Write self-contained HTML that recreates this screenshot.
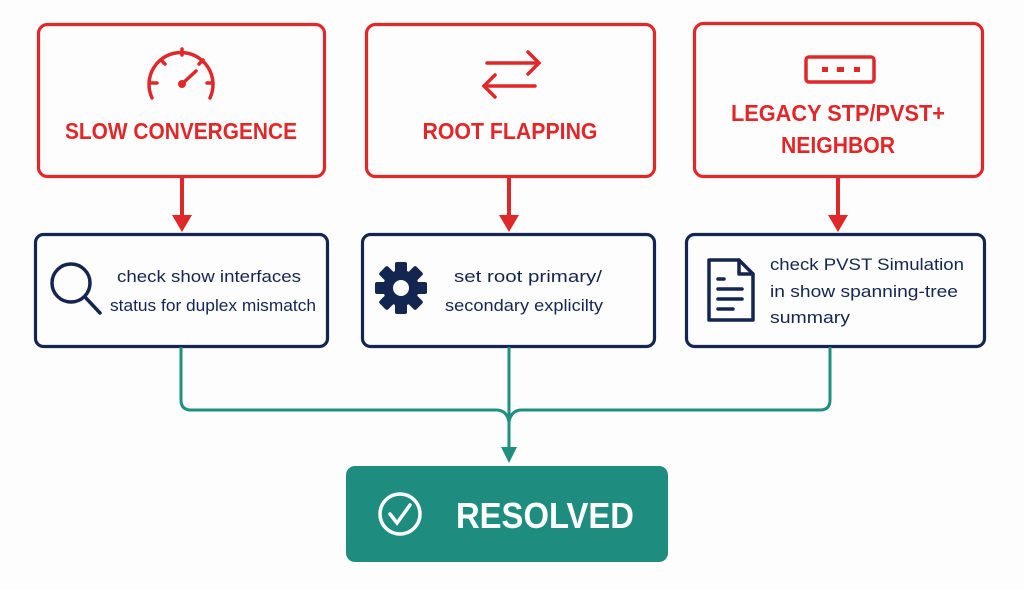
<!DOCTYPE html>
<html><head><meta charset="utf-8"><style>
body{margin:0;background:#fdfdfd;width:1024px;height:585px;overflow:hidden;font-family:"Liberation Sans",sans-serif}
</style></head><body>
<svg width="1024" height="585" viewBox="0 0 1024 585" xmlns="http://www.w3.org/2000/svg">
<g fill="none" stroke="#e0282a" stroke-width="3.2">
<rect x="38.5" y="24.5" width="286" height="152" rx="9"/>
<rect x="366.5" y="24.5" width="288" height="152" rx="9"/>
<rect x="694.5" y="23.5" width="288" height="153" rx="9"/>
</g>
<g stroke="#e0282a" stroke-width="4" fill="none">
<line x1="182" y1="177" x2="182" y2="218"/>
<line x1="509" y1="177" x2="509" y2="218"/>
<line x1="838" y1="177" x2="838" y2="218"/>
</g>
<g fill="#e0282a">
<polygon points="172,215 192,215 182,232"/>
<polygon points="499,215 519,215 509,232"/>
<polygon points="828,215 848,215 838,232"/>
</g>
<!-- gauge -->
<g stroke="#e0282a" stroke-width="3.5" fill="none" stroke-linecap="round">
<path d="M152,98 A32,32 0 1 1 210,98"/>
<line x1="182" y1="49" x2="182" y2="55"/><line x1="161" y1="60" x2="165" y2="64"/><line x1="203" y1="60" x2="199" y2="64"/>
<line x1="151" y1="83" x2="157" y2="83"/><line x1="207" y1="83" x2="213" y2="83"/>
<line x1="182" y1="84" x2="196" y2="71"/>
</g>
<circle cx="182" cy="84" r="4" fill="#e0282a"/>
<!-- arrows swap -->
<g stroke="#e0282a" stroke-width="3.5" fill="none" stroke-linecap="round">
<line x1="487" y1="63" x2="538" y2="63"/><polyline points="528,52 539,63 528,74"/>
<line x1="484" y1="86" x2="535" y2="86"/><polyline points="495,75 484,86 495,97"/>
</g>
<!-- device -->
<rect x="806" y="57" width="68" height="25" rx="3" fill="none" stroke="#e0282a" stroke-width="3.5"/>
<g fill="#e0282a"><rect x="822" y="67" width="6" height="5"/><rect x="837" y="67" width="7" height="5"/><rect x="854" y="67" width="6" height="5"/></g>
<g fill="#e0282a" font-weight="bold" font-size="23" text-anchor="middle">
<text x="181" y="139" textLength="232" lengthAdjust="spacingAndGlyphs">SLOW CONVERGENCE</text>
<text x="510" y="139" textLength="175" lengthAdjust="spacingAndGlyphs">ROOT FLAPPING</text>
<text x="838" y="121" textLength="214" lengthAdjust="spacingAndGlyphs">LEGACY STP/PVST+</text>
<text x="838" y="153" textLength="114" lengthAdjust="spacingAndGlyphs">NEIGHBOR</text>
</g>
<g fill="none" stroke="#14264f" stroke-width="3.2">
<rect x="35.5" y="234.5" width="292" height="112" rx="8"/>
<rect x="362.5" y="234.5" width="292" height="112" rx="8"/>
<rect x="686.5" y="234.5" width="298" height="112" rx="8"/>
</g>
<!-- magnifier -->
<g stroke="#14264f" stroke-width="3.5" fill="none" stroke-linecap="round">
<circle cx="71" cy="283" r="19"/><line x1="85" y1="297" x2="100" y2="313"/>
</g>
<!-- gear -->
<g transform="translate(401,288)" fill="#14264f">
<circle r="18"/>
<g><rect x="-6" y="-26" width="12" height="52" rx="2"/>
<rect x="-6" y="-26" width="12" height="52" rx="2" transform="rotate(45)"/>
<rect x="-6" y="-26" width="12" height="52" rx="2" transform="rotate(90)"/>
<rect x="-6" y="-26" width="12" height="52" rx="2" transform="rotate(135)"/></g>
<circle r="8" fill="#fdfdfd"/>
</g>
<!-- doc -->
<g stroke="#14264f" stroke-width="3.5" fill="none" stroke-linejoin="round" stroke-linecap="round">
<path d="M709,260 H739 L753,274 V320 H709 Z"/><path d="M739,260 V274 H753"/>
<line x1="718" y1="279" x2="724" y2="279"/><line x1="718" y1="289" x2="742" y2="289"/><line x1="718" y1="299" x2="742" y2="299"/><line x1="718" y1="309" x2="733" y2="309"/>
</g>
<g fill="#14264f" font-size="17">
<text x="117" y="282" textLength="184" lengthAdjust="spacingAndGlyphs">check show interfaces</text>
<text x="110" y="311" textLength="206" lengthAdjust="spacingAndGlyphs">status for duplex mismatch</text>
<text x="454" y="282" textLength="148" lengthAdjust="spacingAndGlyphs">set root primary/</text>
<text x="445" y="311" textLength="158" lengthAdjust="spacingAndGlyphs">secondary explicilty</text>
<text x="770" y="270" textLength="194" lengthAdjust="spacingAndGlyphs">check PVST Simulation</text>
<text x="770" y="297" textLength="188" lengthAdjust="spacingAndGlyphs">in show spanning-tree</text>
<text x="770" y="323" textLength="80" lengthAdjust="spacingAndGlyphs">summary</text>
</g>
<g stroke="#1f9080" stroke-width="3" fill="none">
<path d="M181,347 V400 Q181,410 191,410 H496 Q507,410 509,422"/>
<path d="M830,347 V400 Q830,410 820,410 H522 Q511,410 509,422"/>
<line x1="509" y1="347" x2="509" y2="450"/>
</g>
<polygon points="501,447 517,447 509,463" fill="#1f9080"/>
<rect x="346" y="466" width="322" height="96" rx="9" fill="#1e8c7e"/>
<circle cx="400" cy="514" r="20" fill="none" stroke="#fff" stroke-width="3.5"/>
<polyline points="390,514 397,523 410,505" fill="none" stroke="#fff" stroke-width="3.5" stroke-linecap="round"/>
<text x="456" y="528" fill="#fff" font-weight="bold" font-size="36" textLength="178" lengthAdjust="spacingAndGlyphs">RESOLVED</text>
</svg>
</body></html>
